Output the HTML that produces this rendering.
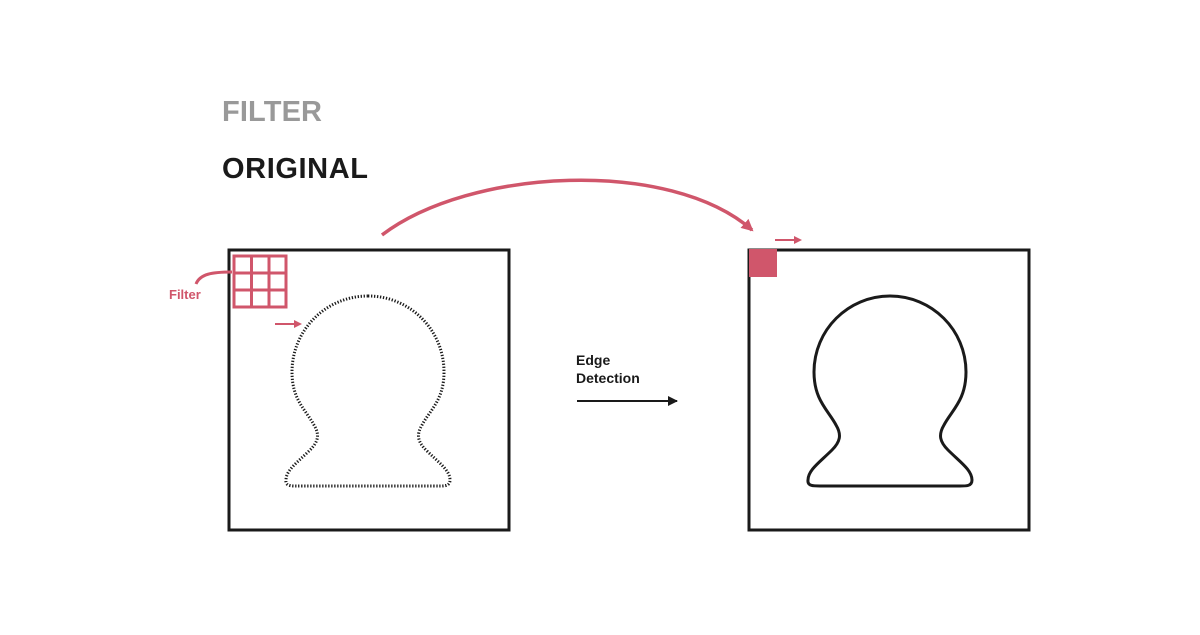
<!DOCTYPE html>
<html><head><style>
body{margin:0;width:1200px;height:630px;background:#fff;overflow:hidden;font-family:"Liberation Sans",sans-serif}
</style></head><body>
<svg width="1200" height="630" viewBox="0 0 1200 630" xmlns="http://www.w3.org/2000/svg">
<defs>
<marker id="ar" markerWidth="8" markerHeight="8" refX="6" refY="4" orient="auto" markerUnits="userSpaceOnUse"><path d="M0,0 L8,4 L0,8 Z" fill="#d0566b"/></marker>
<marker id="ab" markerWidth="10" markerHeight="10" refX="9" refY="5" orient="auto" markerUnits="userSpaceOnUse"><path d="M0,0 L10,5 L0,10 Z" fill="#1a1a1a"/></marker>
<marker id="ar2" markerWidth="12" markerHeight="12" refX="10" refY="6" orient="auto" markerUnits="userSpaceOnUse"><path d="M0,0 L12,6 L0,12 Z" fill="#d0566b"/></marker>
</defs>
<text x="222" y="121" font-size="29" font-weight="bold" fill="#999" textLength="100">FILTER</text>
<text x="222" y="178" font-size="29" font-weight="bold" fill="#1a1a1a" textLength="146">ORIGINAL</text>
<rect x="229" y="250" width="280" height="280" fill="none" stroke="#1a1a1a" stroke-width="3"/>
<rect x="749" y="250" width="280" height="280" fill="none" stroke="#1a1a1a" stroke-width="3"/>
<path d="M890 296 C932 296 966 330 966 372 C966 400 952 410 944 425 C938 435 940 442 948 450 C960 462 972 470 972 480 C972 487 965 486 955 486 L825 486 C815 486 807 487 808 480 C808 470 820 462 832 450 C840 442 842 435 836 425 C828 410 814 400 814 372 C814 330 848 296 890 296 Z" fill="none" stroke="#1a1a1a" stroke-width="3"/>
<path transform="translate(-522,0)" d="M890 296 C932 296 966 330 966 372 C966 400 952 410 944 425 C938 435 940 442 948 450 C960 462 972 470 972 480 C972 487 965 486 955 486 L825 486 C815 486 807 487 808 480 C808 470 820 462 832 450 C840 442 842 435 836 425 C828 410 814 400 814 372 C814 330 848 296 890 296 Z" fill="none" stroke="#1a1a1a" stroke-width="3" stroke-dasharray="1.3 1.7"/>
<g stroke="#d0566b" stroke-width="3" fill="none">
<rect x="234" y="256" width="52" height="51"/>
<line x1="251.5" y1="256" x2="251.5" y2="307"/><line x1="269" y1="256" x2="269" y2="307"/>
<line x1="234" y1="273" x2="286" y2="273"/><line x1="234" y1="290" x2="286" y2="290"/>
<path d="M196 284 C200 274 212 272 232 272"/>
<line x1="275" y1="324" x2="300" y2="324" stroke-width="2" marker-end="url(#ar)"/>
<line x1="775" y1="240" x2="800" y2="240" stroke-width="2" marker-end="url(#ar)"/>
<path d="M382 235 C470 168 670 158 752 230" stroke-width="3.5" marker-end="url(#ar2)"/>
</g>
<rect x="749" y="249" width="28" height="28" fill="#d0566b"/>
<text x="169" y="299" font-size="13" font-weight="bold" fill="#d0566b">Filter</text>
<text x="576" y="365" font-size="14" font-weight="bold" fill="#1a1a1a">Edge</text>
<text x="576" y="383" font-size="14" font-weight="bold" fill="#1a1a1a">Detection</text>
<line x1="577" y1="401" x2="677" y2="401" stroke="#1a1a1a" stroke-width="2" marker-end="url(#ab)"/>
</svg>
</body></html>
